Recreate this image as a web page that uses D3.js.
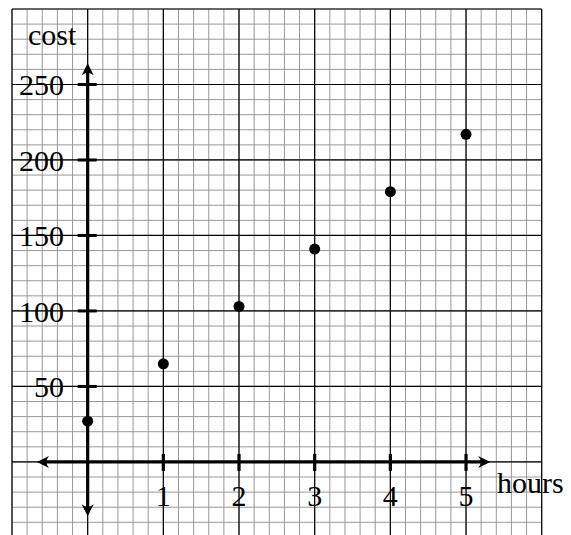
<!DOCTYPE html>
<html>
<head>
<meta charset="utf-8">
<script src="https://cdn.jsdelivr.net/npm/d3@7"></script>
<style>
  body { margin: 0; background: #fff; }
  text { font-family: "Liberation Serif", "DejaVu Serif", serif; fill: #000; }
</style>
</head>
<body>
<svg id="chart" width="571" height="535"></svg>
<script>
// data
var hours = [0, 1, 2, 3, 4, 5];
var cost = [27, 65, 103, 141, 179, 217];
var xTicks = [1, 2, 3, 4, 5];
var yTicks = [50, 100, 150, 200, 250];

var svg = d3.select("#chart");

// graph paper spans -1..6 hours and -50..300 cost
var x = d3.scaleLinear().domain([-1, 6]).range([12, 541.7]);
var y = d3.scaleLinear().domain([-50, 300]).range([537.4, 9]);

var grid = svg.append("g");

// minor lines: every 0.2 hours and every 10 cost
var minorX = d3.range(-1, 6.001, 0.2);
var minorY = d3.range(-50, 300.001, 10);

grid.selectAll(".mx").data(minorX).enter().append("line")
	.attr("x1", d => x(d)).attr("x2", d => x(d))
	.attr("y1", y(300)).attr("y2", y(-50))
	.attr("stroke", "#999").attr("stroke-width", 1);

grid.selectAll(".my").data(minorY).enter().append("line")
	.attr("x1", x(-1)).attr("x2", x(6))
	.attr("y1", d => y(d)).attr("y2", d => y(d))
	.attr("stroke", "#999").attr("stroke-width", 1);

// major lines every hour and every 50
grid.selectAll(".Mx").data(d3.range(-1, 7)).enter().append("line")
	.attr("x1", d => x(d)).attr("x2", d => x(d))
	.attr("y1", y(300)).attr("y2", y(-50))
	.attr("stroke", "#000").attr("stroke-width", 1.2);

grid.selectAll(".My").data(d3.range(-50, 301, 50)).enter().append("line")
	.attr("x1", x(-1)).attr("x2", x(6))
	.attr("y1", d => y(d)).attr("y2", d => y(d))
	.attr("stroke", "#000").attr("stroke-width", 1.2);

// axes with arrow heads
var axes = svg.append("g");
var x0 = x(0), y0 = y(0);

axes.append("line")
	.attr("x1", x(-0.6)).attr("x2", x(5.25))
	.attr("y1", y0).attr("y2", y0)
	.attr("stroke", "#000").attr("stroke-width", 3.2);
axes.append("line")
	.attr("x1", x0).attr("x2", x0)
	.attr("y1", y(-31)).attr("y2", y(259))
	.attr("stroke", "#000").attr("stroke-width", 3.2);

// tip shape pointing right, tip at origin
var tip = "M0,0 L-12,-6 Q-7,0 -12,6 Z";
function arrow(px, py, angle) {
	axes.append("path")
		.attr("d", tip)
		.attr("transform", "translate(" + px + "," + py + ") rotate(" + angle + ")")
		.attr("fill", "#000");
}
arrow(x(5.32), y0, 0);
arrow(x(-0.67), y0, 180);
arrow(x0, y(264), -90);
arrow(x0, y(-36), 90);

// tick marks
axes.selectAll(".xt").data(xTicks).enter().append("line")
	.attr("x1", d => x(d)).attr("x2", d => x(d))
	.attr("y1", y0 - 8).attr("y2", y0 + 9)
	.attr("stroke", "#000").attr("stroke-width", 3.2);
axes.selectAll(".yt").data(yTicks).enter().append("line")
	.attr("x1", x0 - 10).attr("x2", x0 + 9)
	.attr("y1", d => y(d)).attr("y2", d => y(d))
	.attr("stroke", "#000").attr("stroke-width", 3);

// tick labels
svg.selectAll(".xl").data(xTicks).enter().append("text")
	.attr("x", d => x(d)).attr("y", y0 + 44)
	.attr("text-anchor", "middle")
	.style("font-size", "30px")
	.text(d => d);
svg.selectAll(".yl").data(yTicks).enter().append("text")
	.attr("x", 64).attr("y", d => y(d) + 11)
	.attr("text-anchor", "end")
	.style("font-size", "30px")
	.text(d => d);

// axis titles
svg.append("text").attr("x", 28).attr("y", 45)
	.style("font-size", "30px").text("cost");
svg.append("text").attr("x", 497).attr("y", 493)
	.style("font-size", "30px").text("hours");

// points
svg.selectAll(".pt").data(hours).enter().append("circle")
	.attr("cx", d => x(d))
	.attr("cy", (d, i) => y(cost[i]))
	.attr("r", 5.5)
	.attr("fill", "#000");
</script>
</body>
</html>
